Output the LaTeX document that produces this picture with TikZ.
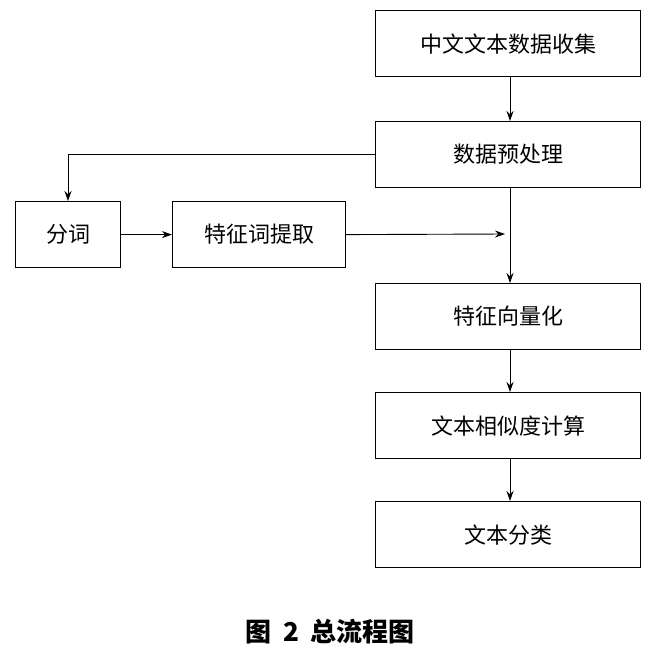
\documentclass[tikz,border=0pt]{standalone}
\usepackage{fontspec}
\newfontfamily\cjk{Noto Sans CJK SC}
\usetikzlibrary{arrows.meta}
\begin{document}
\begin{tikzpicture}[x=1pt,y=-1pt,
  box/.style={draw,line width=1.2pt,minimum height=66pt,inner sep=0pt,font=\cjk\fontsize{22}{26}\selectfont,anchor=north west},
  conn/.style={line width=0.9pt,-{Stealth[length=10pt,width=7pt]}}]
\useasboundingbox (0,0) rectangle (662,670);
\node[box,minimum width=265pt] (b1) at (375,10) {中文文本数据收集};
\node[box,minimum width=265pt] (b2) at (375,121) {数据预处理};
\node[box,minimum width=105pt] (fc) at (15,201) {分词};
\node[box,minimum width=173pt] (tq) at (172,201) {特征词提取};
\node[box,minimum width=265pt] (b3) at (375,283) {特征向量化};
\node[box,minimum width=265pt] (b4) at (375,392) {文本相似度计算};
\node[box,minimum width=265pt] (b5) at (375,501) {文本分类};
\coordinate (m) at (505,234);
\draw[conn] (b1.south -| 510,0) -- (b2.north -| 510,0);
\draw[conn] (b2.west) -| (fc.north -| 68,0);
\draw[conn] (fc.east) -- (tq.west);
\draw[conn] (tq.east) -- (m);
\draw[conn] (b2.south -| 510,0) -- (b3.north -| 510,0);
\draw[conn] (b3.south -| 510,0) -- (b4.north -| 510,0);
\draw[conn] (b4.south -| 510,0) -- (b5.north -| 510,0);
\node[font=\cjk\bfseries\fontsize{26}{30}\selectfont] (cap) at (330,632) {图\ \ 2\ \ 总流程图};
\end{tikzpicture}
\end{document}
